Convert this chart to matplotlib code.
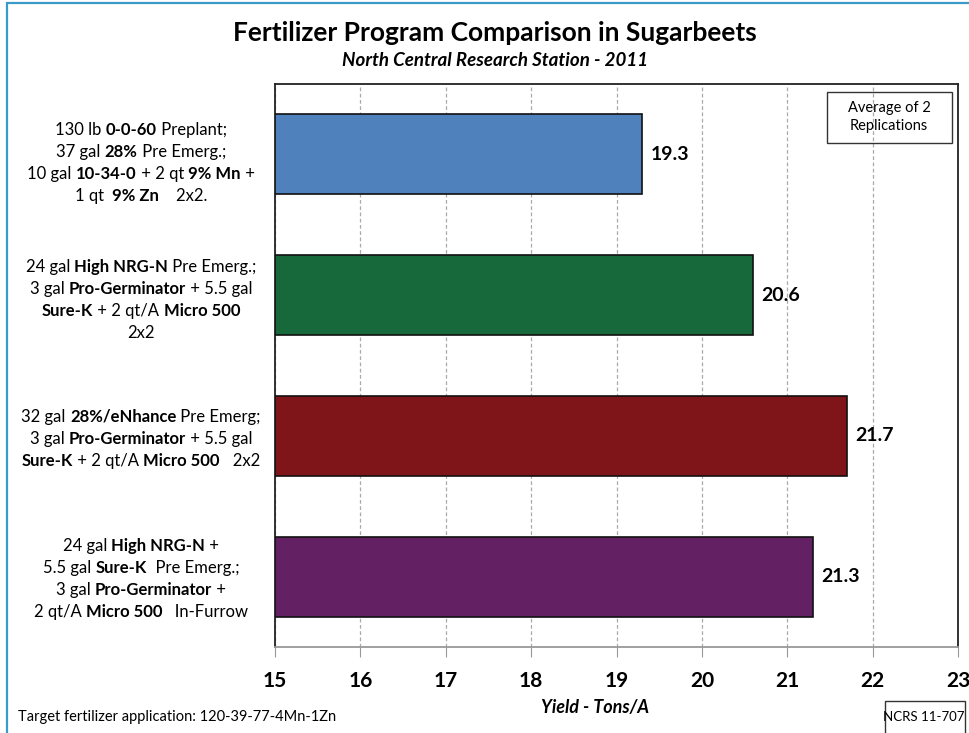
import matplotlib.pyplot as plt
from matplotlib.patches import Rectangle

# data
yields = [19.3, 20.6, 21.7, 21.3]
bar_colors = ["#4F81BD", "#17683A", "#7F1519", "#632163"]
x_ticks = [15, 16, 17, 18, 19, 20, 21, 22, 23]

# category labels: each line is a list of (text, bold) pieces
labels = [
    [
        [("130 lb ", False), ("0-0-60", True), (" Preplant;", False)],
        [("37 gal ", False), ("28%", True), (" Pre Emerg.;", False)],
        [("10 gal ", False), ("10-34-0", True), (" + 2 qt ", False), ("9% Mn", True), (" +", False)],
        [("1 qt  ", False), ("9% Zn", True), ("    2x2.", False)],
    ],
    [
        [("24 gal ", False), ("High NRG-N", True), (" Pre Emerg.;", False)],
        [("3 gal ", False), ("Pro-Germinator", True), (" + 5.5 gal", False)],
        [("Sure-K", True), (" + 2 qt/A ", False), ("Micro 500", True)],
        [("2x2", False)],
    ],
    [
        [("32 gal ", False), ("28%/eNhance", True), (" Pre Emerg;", False)],
        [("3 gal ", False), ("Pro-Germinator", True), (" + 5.5 gal", False)],
        [("Sure-K", True), (" + 2 qt/A ", False), ("Micro 500", True), ("   2x2", False)],
    ],
    [
        [("24 gal ", False), ("High NRG-N", True), (" +", False)],
        [("5.5 gal ", False), ("Sure-K", True), ("  Pre Emerg.;", False)],
        [("3 gal ", False), ("Pro-Germinator", True), (" +", False)],
        [("2 qt/A ", False), ("Micro 500", True), ("   In-Furrow", False)],
    ],
]

plt.rcParams["font.family"] = ["Lato", "DejaVu Sans"]

W, H = 969, 733
fig = plt.figure(figsize=(W / 100, H / 100), dpi=100)
ax = fig.add_axes([275 / W, 1 - 647 / H, 683 / W, 563 / H])

pos = list(range(len(yields)))
ax.barh(pos, [v - x_ticks[0] for v in yields], left=x_ticks[0], height=0.57,
        color=bar_colors, edgecolor="#111111", linewidth=1.2, zorder=3)
for p, v in zip(pos, yields):
    ax.annotate(f"{v:.1f}", (v, p), xytext=(6, 0), textcoords="offset points",
                va="center", ha="left", fontsize=14, fontweight="bold", zorder=4)

ax.set_xlim(x_ticks[0], x_ticks[-1])
ax.set_ylim(len(yields) - 0.5, -0.5)
ax.set_xticks(x_ticks)
ax.set_yticks([])
ax.xaxis.grid(True, color="#AAAAAA", linestyle=(0, (3, 2)), linewidth=0.9, zorder=0)
ax.tick_params(axis="x", length=7, color="#999999", pad=10, labelsize=15)
for lbl in ax.get_xticklabels():
    lbl.set_fontweight("bold")
for side in ["top", "left", "right"]:
    ax.spines[side].set_color("#222222")
    ax.spines[side].set_linewidth(1.3)
ax.spines["bottom"].set_color("#999999")
ax.spines["bottom"].set_linewidth(1.3)

fig.text(495 / W, 1 - 33 / H, "Fertilizer Program Comparison in Sugarbeets",
         ha="center", va="center", fontsize=19, fontweight="bold")
fig.text(495 / W, 1 - 60 / H, "North Central Research Station - 2011",
         ha="center", va="center", fontsize=13.5, fontweight="bold", style="italic")
fig.text(595 / W, 1 - 708 / H, "Yield - Tons/A", ha="center", va="center",
         fontsize=13, fontweight="bold", style="italic")
fig.text(18 / W, 1 - 717 / H, "Target fertilizer application: 120-39-77-4Mn-1Zn",
         ha="left", va="center", fontsize=10.5)

# boxed notes
fig.text(889 / W, 1 - 117 / H, "Average of 2\nReplications", ha="center", va="center",
         fontsize=10.5, linespacing=1.3)
fig.patches.append(Rectangle((827 / W, 1 - 143 / H), 125 / W, 51 / H,
                             transform=fig.transFigure, fill=False,
                             edgecolor="#333333", linewidth=1.0))
fig.text(924 / W, 1 - 717 / H, "NCRS 11-707", ha="center", va="center", fontsize=9.5)
fig.patches.append(Rectangle((885 / W, 1 - 745 / H), 80 / W, 44 / H,
                             transform=fig.transFigure, fill=False,
                             edgecolor="#333333", linewidth=1.0))

# outer chart border (only left and top show in the reference)
fig.patches.append(Rectangle((7 / W, -0.05), 1.1, 1 - 3 / H + 0.05,
                             transform=fig.transFigure, fill=False,
                             edgecolor="#3A9BC8", linewidth=1.6))

# category labels with mixed bold pieces, centred on each bar
fig.canvas.draw()
renderer = fig.canvas.get_renderer()
line_h = 22
label_cx = 141
label_shift = [9, 5, 3, 2]
for p, lines in zip(pos, labels):
    cy = ax.transData.transform((x_ticks[0], p))[1] - label_shift[p]
    n = len(lines)
    for i, line in enumerate(lines):
        y = cy + ((n - 1) / 2 - i) * line_h
        pieces = []
        for txt, bold in line:
            t = fig.text(0, y / H, txt, ha="left", va="center", fontsize=12,
                         fontweight="bold" if bold else "normal")
            pieces.append(t)
        widths = [t.get_window_extent(renderer).width for t in pieces]
        x = label_cx - sum(widths) / 2
        for t, w in zip(pieces, widths):
            t.set_x(x / W)
            x += w

fig.savefig("out.png", dpi=100)
